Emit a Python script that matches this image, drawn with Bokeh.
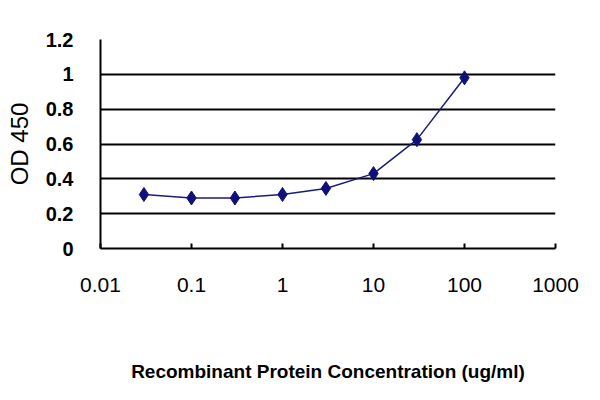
from bokeh.plotting import figure
from bokeh.models import FixedTicker, Range1d
from bokeh.embed import file_html
from bokeh.resources import INLINE

conc = [0.03, 0.1, 0.3, 1, 3, 10, 30, 100]
od = [0.31, 0.29, 0.29, 0.31, 0.345, 0.43, 0.625, 0.98]
x_ticks = [0.01, 0.1, 1, 10, 100, 1000]
x_labels = ["0.01", "0.1", "1", "10", "100", "1000"]
y_ticks = [0, 0.2, 0.4, 0.6, 0.8, 1, 1.2]
y_labels = ["0", "0.2", "0.4", "0.6", "0.8", "1", "1.2"]

p = figure(width=584, height=384, x_axis_type="log", output_backend="svg",
           toolbar_location=None, x_range=Range1d(0.01, 1000), y_range=Range1d(0, 1.2),
           min_border_left=100, min_border_right=29, min_border_top=39, min_border_bottom=136)
p.outline_line_color = None
p.background_fill_color = "white"

p.line(conc, od, line_color="#1a1a80", line_width=1.5)
p.scatter(conc, od, marker="diamond", size=14, fill_color="#10107a", line_color="#10107a")

p.xaxis.ticker = FixedTicker(ticks=x_ticks)
p.xaxis.major_label_overrides = {t: l for t, l in zip(x_ticks, x_labels)}
p.xaxis.minor_tick_line_color = None
p.xaxis.major_tick_in = 5
p.xaxis.major_tick_out = 0
p.xaxis.axis_line_color = "black"
p.xaxis.axis_line_width = 2
p.xaxis.major_tick_line_width = 2
p.xaxis.major_label_text_font = "Liberation Sans"
p.xaxis.major_label_text_font_size = "21px"
p.xaxis.major_label_text_color = "black"
p.xaxis.major_label_standoff = 29
p.xaxis.axis_label = "Recombinant Protein Concentration (ug/ml)"
p.xaxis.axis_label_text_font = "Liberation Sans"
p.xaxis.axis_label_text_font_style = "bold"
p.xaxis.axis_label_text_font_size = "19px"
p.xaxis.axis_label_text_color = "black"
p.xaxis.axis_label_standoff = 66

p.yaxis.ticker = FixedTicker(ticks=y_ticks)
p.yaxis.major_label_overrides = {t: l for t, l in zip(y_ticks, y_labels)}
p.yaxis.minor_tick_line_color = None
p.yaxis.major_tick_in = 0
p.yaxis.major_tick_out = 0
p.yaxis.axis_line_color = "black"
p.yaxis.axis_line_width = 2
p.yaxis.major_label_text_font = "Liberation Sans"
p.yaxis.major_label_text_font_style = "bold"
p.yaxis.major_label_text_font_size = "20px"
p.yaxis.major_label_text_color = "black"
p.yaxis.major_label_standoff = 27
p.yaxis.axis_label = "OD 450"
p.yaxis.axis_label_text_font = "Liberation Sans"
p.yaxis.axis_label_text_font_style = "normal"
p.yaxis.axis_label_text_font_size = "24px"
p.yaxis.axis_label_text_color = "black"
p.yaxis.axis_label_standoff = 10

p.xgrid.grid_line_color = None
p.ygrid.grid_line_color = "black"
p.ygrid.grid_line_width = 2
p.ygrid.grid_line_alpha = 1.0

open("out.html", "w").write(file_html(p, INLINE))
